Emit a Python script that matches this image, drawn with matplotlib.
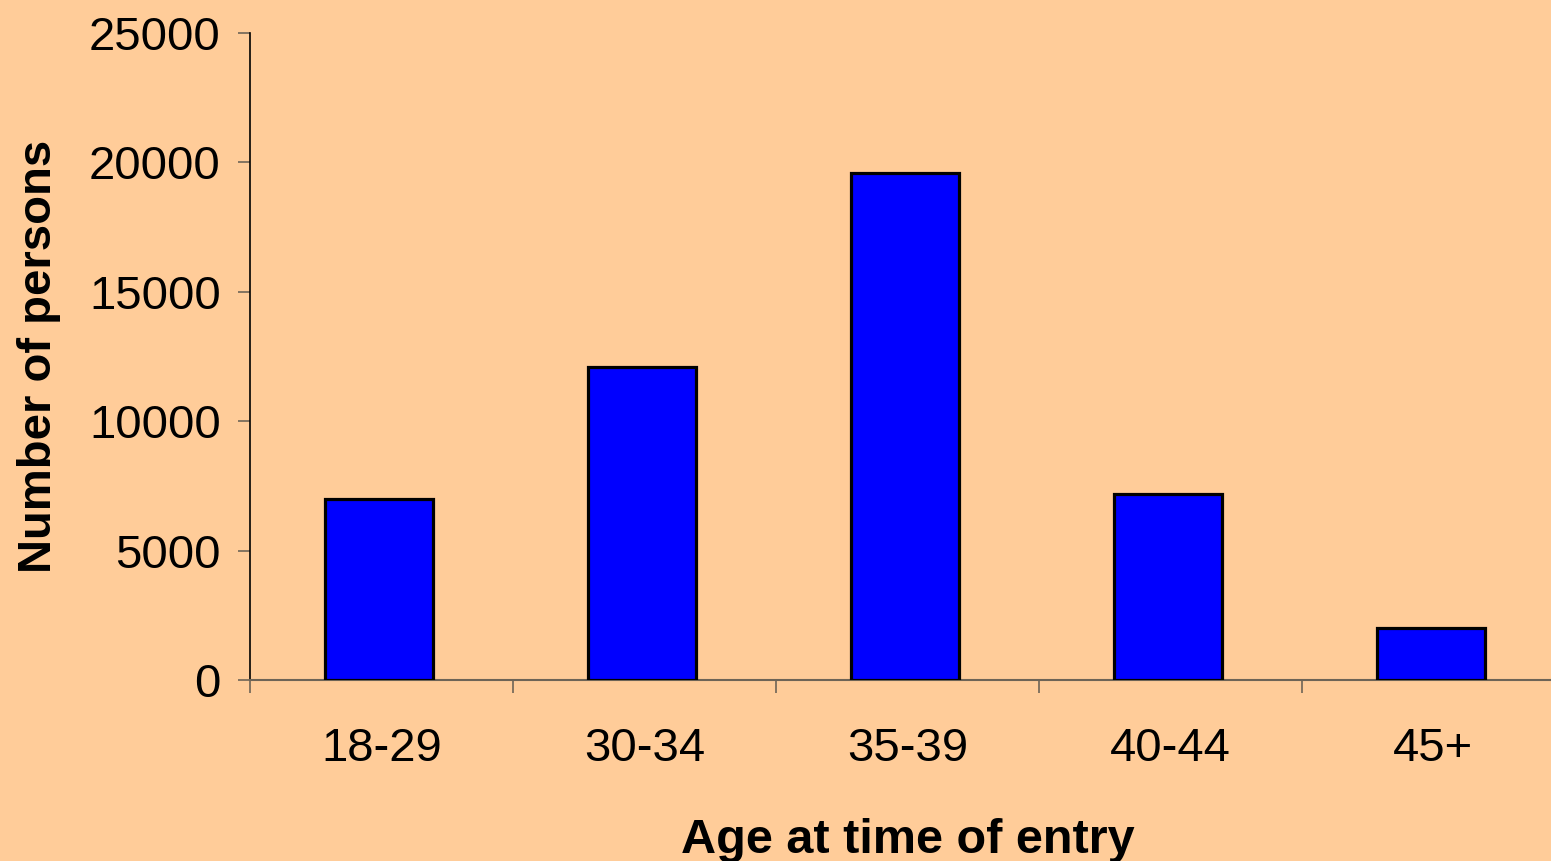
import matplotlib.pyplot as plt

plt.rcParams['font.family'] = ['Liberation Sans', 'DejaVu Sans']

ages = ['18-29', '30-34', '35-39', '40-44', '45+']
persons = [7000, 12100, 19600, 7200, 2000]
y_ticks = [0, 5000, 10000, 15000, 20000, 25000]

bg = '#ffcc99'
fig = plt.figure(figsize=(15.51, 8.61), dpi=100, facecolor=bg)
ax = fig.add_axes([250 / 1551, 181 / 861, 1315 / 1551, 647 / 861])
ax.set_facecolor(bg)

x = [i - 0.01 for i in range(len(ages))]
ax.bar(x, persons, width=0.41, color='#0000ff', edgecolor='black', linewidth=2.3, zorder=3)

ax.set_xlim(-0.5, len(ages) - 0.5)
ax.set_ylim(0, 25000)
ax.set_yticks(y_ticks)
ax.set_yticklabels([str(v) for v in y_ticks], fontsize=34)
ax.set_xticks(range(len(ages)))
ax.set_xticklabels(ages, fontsize=34)
ax.set_xticks([i - 0.5 for i in range(len(ages) + 1)], minor=True)
ax.tick_params(axis='x', which='major', length=0, pad=34)
ax.tick_params(axis='x', which='minor', length=9, width=1.2, color='#6e6456')
ax.tick_params(axis='y', length=9, width=1.2, color='#6e6456', pad=12)

for s in ['top', 'right']:
    ax.spines[s].set_visible(False)
ax.spines['left'].set_color('black')
ax.spines['left'].set_linewidth(1.2)
ax.spines['bottom'].set_color('#6e6456')
ax.spines['bottom'].set_linewidth(1.5)

ax.set_xlabel('Age at time of entry', fontsize=35, fontweight='bold', labelpad=34)
ax.set_ylabel('Number of persons', fontsize=34, fontweight='bold', labelpad=20)

fig.savefig('out.png', dpi=100, facecolor=bg)
